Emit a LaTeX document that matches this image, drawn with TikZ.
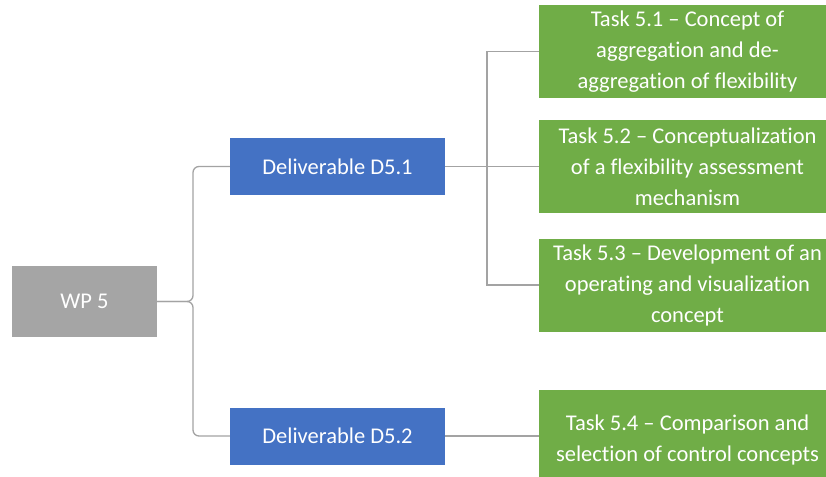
\documentclass[tikz,border=0pt]{standalone}
\usepackage{fontspec}
\setmainfont{Carlito}[Ligatures=CommonOff]
\begin{document}
\begin{tikzpicture}[x=1pt,y=-1pt,
  box/.style={draw=none,minimum width=#1,inner sep=0pt,text=white,align=center,
    font=\fontsize{22.5}{31}\selectfont},
  wp/.style={box=145pt,fill=wpgray,minimum height=71pt},
  deliv/.style={box=215pt,fill=delblue,minimum height=57pt},
  task/.style={box=297pt,fill=taskgreen,minimum height=93pt},
  conn/.style={draw=linegray,line width=1.3pt,rounded corners=6pt}]
\definecolor{wpgray}{HTML}{A5A5A5}
\definecolor{delblue}{HTML}{4472C4}
\definecolor{taskgreen}{HTML}{70AD47}
\definecolor{linegray}{HTML}{A3A3A3}
\useasboundingbox (0,0) rectangle (826,476);
\clip (0,0) rectangle (826,476);
\node[wp] (wp) at (84.5,301.5) {WP 5};
\node[deliv] (d1) at (337.5,166.5) {Deliverable D5.1};
\node[deliv] (d2) at (337.5,436) {Deliverable D5.2};
\node[task] (t1) at (687.5,51.5) {Task 5.1 -- Concept of\\aggregation and de-\\aggregation of flexibility};
\node[task] (t2) at (687.5,166.5) {Task 5.2 -- Conceptualization\\of a flexibility assessment\\mechanism};
\node[task] (t3) at (687.5,285) {Task 5.3 -- Development of an\\operating and visualization\\concept};
\node[task,minimum height=100pt] (t4) at (687.5,440) {Task 5.4 -- Comparison and\\selection of control concepts};
\draw[conn] (wp.east) -- (193,301.5) |- (d1.west);
\draw[conn] (wp.east) -- (193,301.5) |- (d2.west);
\draw[conn,rounded corners=0pt] (d1.east) -- (t2.west);
\draw[conn,rounded corners=0pt] (487,166.5) |- (t1.west);
\draw[conn,rounded corners=0pt] (487,166.5) |- (t3.west);
\draw[conn,rounded corners=0pt] (d2.east) -- (t4.west |- d2.east);
\end{tikzpicture}
\end{document}
